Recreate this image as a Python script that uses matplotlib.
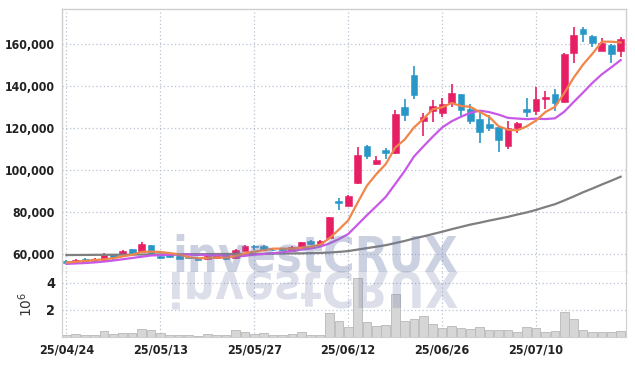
import matplotlib

matplotlib.use('Agg')
import matplotlib.pyplot as plt
import numpy as np
from matplotlib import font_manager
from matplotlib.font_manager import FontProperties
from matplotlib.patches import PathPatch
from matplotlib.textpath import TextPath
from matplotlib.ticker import FuncFormatter
from matplotlib.transforms import Affine2D

# trading days shown (yy/mm/dd)
dates = [
    "25/04/24", "25/04/25", "25/04/28", "25/04/29", "25/04/30", "25/05/02", "25/05/07", "25/05/08", "25/05/09", "25/05/12",
    "25/05/13", "25/05/14", "25/05/15", "25/05/16", "25/05/19", "25/05/20", "25/05/21", "25/05/22", "25/05/23", "25/05/26",
    "25/05/27", "25/05/28", "25/05/29", "25/05/30", "25/06/02", "25/06/04", "25/06/05", "25/06/09", "25/06/10", "25/06/11",
    "25/06/12", "25/06/13", "25/06/16", "25/06/17", "25/06/18", "25/06/19", "25/06/20", "25/06/23", "25/06/24", "25/06/25",
    "25/06/26", "25/06/27", "25/06/30", "25/07/01", "25/07/02", "25/07/03", "25/07/04", "25/07/07", "25/07/08", "25/07/09",
    "25/07/10", "25/07/11", "25/07/14", "25/07/15", "25/07/16", "25/07/17", "25/07/18", "25/07/21", "25/07/22", "25/07/23",
]

opens = [
    56800, 56300, 57800, 56800, 57100, 60000, 59900, 62200, 61100, 64300,
    59200, 59300, 59000, 58700, 57900, 57800, 58000, 59500, 58000, 61600,
    63700, 63800, 62100, 62500, 61600, 62700, 66200, 64600, 67500, 85200,
    83000, 93700, 111400, 102700, 109500, 107900, 129900, 145200, 123500, 128100,
    127300, 132000, 136000, 129000, 124300, 121900, 120500, 111600, 119900, 129000,
    128200, 133800, 136000, 132500, 155600, 167000, 163800, 156800, 159500, 156800,
]
highs = [
    57000, 57700, 58000, 58000, 60300, 60200, 62100, 62600, 65600, 64500,
    59500, 60000, 59300, 59000, 58100, 59200, 59800, 59800, 62200, 64100,
    64400, 64100, 62600, 62800, 63800, 65900, 66500, 66500, 77700, 86800,
    88200, 111000, 111700, 106800, 110600, 128600, 134000, 149500, 127100, 133300,
    134300, 140800, 136300, 131400, 127000, 126200, 121000, 123500, 123000, 134100,
    139700, 137600, 138400, 155500, 168000, 168000, 164100, 162700, 159800, 163500,
]
lows = [
    55700, 56100, 56600, 56500, 56900, 57100, 59700, 60300, 60800, 59700,
    57700, 58300, 57500, 57600, 57000, 57500, 57800, 57200, 57800, 61400,
    61900, 62000, 61200, 61600, 61300, 62500, 64500, 64400, 67300, 81000,
    82700, 93400, 105200, 102400, 105200, 107600, 123500, 133700, 116200, 122900,
    125200, 130100, 125400, 121900, 112700, 118700, 108700, 110000, 117500, 125100,
    126200, 129000, 128100, 132200, 151100, 161100, 158700, 156500, 151100, 154000,
]
closes = [
    55900, 57300, 56800, 57800, 59500, 58600, 61600, 60600, 64800, 59900,
    58000, 58800, 57800, 57900, 57300, 58900, 59500, 57500, 61900, 63800,
    63200, 62200, 61700, 62000, 63500, 65600, 64800, 66200, 77400, 84100,
    87600, 107100, 106800, 104800, 107900, 126700, 126200, 135700, 125400, 130500,
    131400, 136500, 128600, 123500, 118100, 119900, 114300, 120000, 122200, 127600,
    133800, 134600, 132000, 155200, 164300, 164900, 160600, 160600, 155100, 162400,
]

# moving average lines as drawn (5, 10, 60 days)
ma5 = [
    55900, 56300, 56700, 57100, 57460, 58000, 58860, 59620, 61020, 61100,
    60980, 60420, 59860, 58480, 57960, 58140, 58280, 58220, 59020, 60320,
    61180, 61720, 62560, 62580, 62520, 63000, 63520, 64420, 67500, 71620,
    76020, 84480, 92600, 98080, 102840, 110660, 114480, 120260, 124380, 128900,
    129840, 131900, 130480, 130100, 127620, 125320, 120880, 119160, 118900, 120800,
    123580, 127640, 130040, 136640, 143980, 150200, 155400, 161120, 161100, 160720,
]
ma10 = [
    55300, 55500, 55700, 56000, 56400, 56900, 57500, 58100, 58700, 59280,
    59490, 59640, 59740, 59750, 59530, 59560, 59350, 59040, 58750, 59140,
    59660, 60000, 60390, 60800, 61420, 62090, 62620, 63490, 65040, 67070,
    69510, 74000, 78510, 82790, 87230, 93340, 99480, 106430, 111230, 115870,
    120250, 123190, 125370, 127240, 128260, 127580, 126390, 124820, 124500, 124210,
    124450, 124260, 124600, 127770, 132390, 136890, 141520, 145580, 148870, 152350,
]
ma60 = [
    59500, 59530, 59560, 59600, 59620, 59650, 59680, 59710, 59740, 59770,
    59800, 59830, 59860, 59890, 59920, 59950, 59980, 60010, 60040, 60070,
    60100, 60140, 60180, 60220, 60260, 60300, 60400, 60500, 60700, 61000,
    61400, 62100, 62800, 63500, 64200, 65200, 66200, 67400, 68400, 69500,
    70600, 71800, 72900, 74000, 74900, 75900, 76800, 77700, 78800, 79800,
    81000, 82400, 83700, 85500, 87400, 89400, 91200, 93100, 94900, 96800,
]

# volume, millions of shares
volume = [
    0.15, 0.22, 0.12, 0.14, 0.42, 0.25, 0.32, 0.30, 0.58, 0.52,
    0.27, 0.18, 0.18, 0.17, 0.10, 0.20, 0.12, 0.12, 0.52, 0.37,
    0.20, 0.27, 0.17, 0.12, 0.25, 0.35, 0.18, 0.18, 1.76, 1.18,
    0.71, 4.36, 1.08, 0.79, 0.88, 3.15, 1.18, 1.32, 1.52, 0.93,
    0.66, 0.79, 0.64, 0.57, 0.71, 0.50, 0.50, 0.50, 0.35, 0.71,
    0.64, 0.40, 0.45, 1.81, 1.30, 0.52, 0.35, 0.35, 0.35, 0.45,
]

UP = '#e61e64'
DOWN = '#2996c8'
GRID = '#b9c1d3'
SPINE = '#cfcfcf'
W, H = 635, 366


def _narrow_bold():
    # condensed bold face for the axis labels, DejaVu if it is there
    fonts = [f for f in font_manager.fontManager.ttflist
             if f.stretch == 'condensed' and f.weight in ('bold', 700) and f.style == 'normal']
    fonts.sort(key=lambda f: 'DejaVu' not in f.name)
    if fonts:
        return fonts[0].fname
    return None


fname = _narrow_bold()
if fname:
    ytick_font = FontProperties(fname=fname, size=8.8)
    xtick_font = FontProperties(fname=fname, size=9.0)
    wm_font = FontProperties(fname=fname, size=36)
else:
    ytick_font = FontProperties(family='Liberation Sans', weight='bold', size=9)
    xtick_font = FontProperties(family='Liberation Sans', weight='bold', size=9)
    wm_font = FontProperties(family='DejaVu Sans', weight='bold', size=32)

fig = plt.figure(figsize=(W / 100, H / 100), dpi=100)
ax = fig.add_axes([62 / W, 1 - 272 / H, 564 / W, 263 / H])
axv = fig.add_axes([62 / W, 1 - 337 / H, 564 / W, 65 / H], sharex=ax)

x = np.arange(len(dates))
o = np.array(opens)
c = np.array(closes)
up = c >= o
colors = np.where(up, UP, DOWN)

ax.vlines(x, lows, highs, colors=colors, lw=1.2, zorder=2)
ax.bar(x, np.abs(c - o), bottom=np.minimum(o, c), width=0.72, color=colors,
       edgecolor=colors, lw=0.4, zorder=2.5)

ax.plot(x, ma60, color='#7f7f7f', lw=1.6, zorder=3)
ax.plot(x, ma10, color='#c858e8', lw=1.6, zorder=3)
ax.plot(x, ma5, color='#f0864a', lw=1.6, zorder=3)

ax.set_xlim(-0.47, 59.57)
ax.set_ylim(51430, 176670)
ax.set_yticks(range(60000, 160001, 20000))
ax.yaxis.set_major_formatter(FuncFormatter(lambda v, p: f"{int(v):,}"))
ax.set_xticks(x[::10])
ax.tick_params(axis='x', labelbottom=False, length=0)
ax.tick_params(axis='y', length=0, pad=5, colors='#222222')
for lab in ax.get_yticklabels():
    lab.set_fontproperties(ytick_font)
ax.grid(True, linestyle=(0, (1, 2)), color=GRID, lw=0.9)
for s in ax.spines.values():
    s.set_color(SPINE)
    s.set_linewidth(1.0)

axv.bar(x, volume, width=0.92, color='#d6d6d6', edgecolor='#b8b8b8', lw=0.6, zorder=2)
axv.set_ylim(0, 4.78)
axv.set_yticks([2, 4])
axv.set_yticklabels(['2', '4'])
axv.set_xticks(x[::10])
axv.set_xticklabels([dates[i] for i in x[::10]])
axv.tick_params(axis='y', length=0, pad=5, colors='#222222')
axv.tick_params(axis='x', length=0, pad=4.5, colors='#222222')
for lab in axv.get_yticklabels():
    lab.set_fontproperties(FontProperties(fname=fname, size=10.3) if fname else ytick_font)
for lab in axv.get_xticklabels():
    lab.set_fontproperties(xtick_font)
axv.set_ylabel(r'$10^6$', fontsize=10, color='#333333', labelpad=8)
axv.grid(True, linestyle=(0, (1, 2)), color=GRID, lw=0.9)
for s in axv.spines.values():
    s.set_color(SPINE)
axv.spines['top'].set_visible(False)

# investCRUX watermark, sized to its box, plus the mirrored copy under it
x0, x1, ybase = 172, 458, H - 272
wm = fig.text(x0 / W, ybase / H, 'investCRUX', fontproperties=wm_font, color='#6e7daa',
              alpha=0.35, ha='left', va='baseline', zorder=5)
fig.canvas.draw()
ext = wm.get_window_extent()
wm.set_fontsize(wm_font.get_size() * (x1 - x0) / ext.width)

mp = TextPath((0, 0), 'investCRUX', size=100, prop=wm_font)
bb = mp.get_extents()
k = (x1 - x0) / bb.width
tr = Affine2D().translate(-bb.x0, 0).scale(k / W, -k / H).translate(x0 / W, ybase / H)
fig.add_artist(PathPatch(tr.transform_path(mp), facecolor='#6e7daa', edgecolor='none',
                         alpha=0.24, transform=fig.transFigure, zorder=5))

fig.savefig('out.png', dpi=100)
